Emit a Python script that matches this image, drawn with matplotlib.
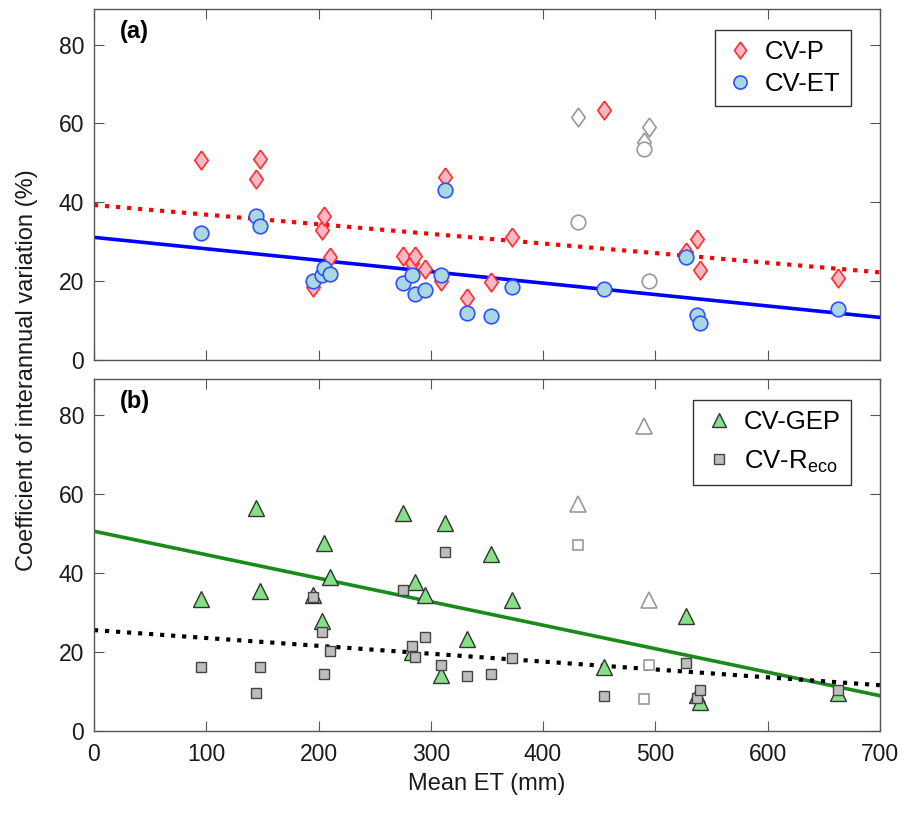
import matplotlib.pyplot as plt
import numpy as np

plt.rcParams['font.family'] = ['Liberation Sans', 'DejaVu Sans']

# sites used in the regressions (filled markers)
mean_et = [95, 144, 148, 195, 203, 205, 210, 275, 283, 286, 295,
           309, 313, 332, 354, 372, 454, 527, 537, 540, 663]
cv_p = [50.8, 45.9, 51.0, 18.5, 33.0, 36.5, 26.2, 26.4, 24.5, 26.4, 23.0,
        20.0, 46.5, 15.6, 19.8, 31.3, 63.5, 27.3, 30.6, 22.7, 20.7]
cv_et = [32.3, 36.5, 34.0, 20.0, 21.5, 23.4, 21.7, 19.5, 21.5, 16.7, 17.8,
         21.5, 43.0, 11.8, 11.2, 18.4, 17.9, 26.1, 11.3, 9.3, 12.9]
cv_gep = [33.4, 56.3, 35.5, 34.5, 27.8, 47.4, 39.0, 55.1, 19.9, 37.6, 34.3,
          14.2, 52.5, 23.3, 44.7, 33.2, 16.1, 29.0, 9.1, 7.4, 9.6]
cv_reco = [16.1, 9.7, 16.1, 33.8, 25.0, 14.4, 20.1, 35.6, 21.4, 18.6, 23.7,
           16.7, 45.3, 14.0, 14.5, 18.4, 8.9, 17.3, 8.3, 10.4, 10.4]

# excluded sites (open grey markers)
ex_et = [431, 490, 494]
ex_p = [61.5, 55.4, 59.0]
ex_cv_et = [35.1, 53.6, 20.0]
ex_gep = [57.5, 77.2, 33.0]
ex_reco = [47.0, 8.0, 16.8]

# regression lines: (intercept, slope)
fit_p = (39.3, -0.0244)
fit_et = (31.1, -0.0290)
fit_gep = (50.5, -0.0594)
fit_reco = (25.5, -0.0199)

xline = np.array([0, 700])

# wider diamond than matplotlib's 'd'
diamond = [(0, 1), (0.72, 0), (0, -1), (-0.72, 0), (0, 1)]

fig = plt.figure(figsize=(9.17, 8.13), dpi=100)
ax1 = fig.add_axes([0.1025, 0.5572, 0.857, 0.4317])
ax2 = fig.add_axes([0.1025, 0.1009, 0.857, 0.4330])

grey = '#999999'

# (a)
ax1.plot(xline, fit_p[0] + fit_p[1] * xline, ':', color='#ff0000', lw=3)
ax1.plot(xline, fit_et[0] + fit_et[1] * xline, '-', color='#0000ff', lw=2.6)
ax1.plot(ex_et, ex_p, marker=diamond, ms=13.5, mfc='white', mec=grey, mew=1.2, ls='none')
ax1.plot(ex_et, ex_cv_et, 'o', ms=10.5, mfc='white', mec=grey, mew=1.2, ls='none')
ax1.plot(mean_et, cv_p, marker=diamond, ms=13.5, mfc='#f9b8c4', mec='#ff3030', mew=1.2,
         ls='none', label='CV-P')
ax1.plot(mean_et, cv_et, 'o', ms=10.5, mfc='#a9d8e2', mec='#3050ff', mew=1.2,
         ls='none', label='CV-ET')

# (b)
ax2.plot(xline, fit_gep[0] + fit_gep[1] * xline, '-', color='#1a8a1a', lw=2.6)
ax2.plot(xline, fit_reco[0] + fit_reco[1] * xline, ':', color='black', lw=3)
ax2.plot(ex_et, ex_gep, '^', ms=11, mfc='white', mec=grey, mew=1.2, ls='none')
ax2.plot(ex_et, ex_reco, 's', ms=7.5, mfc='white', mec=grey, mew=1.2, ls='none')
ax2.plot(mean_et, cv_gep, '^', ms=11, mfc='#86e086', mec='#333333', mew=1.0,
         ls='none', label='CV-GEP')
ax2.plot(mean_et, cv_reco, 's', ms=7.5, mfc='#bdbdbd', mec='#444444', mew=1.0,
         ls='none', label='CV-R$_{\\mathregular{eco}}$')

for ax, tag, spacing in [(ax1, '(a)', 0.3), (ax2, '(b)', 0.55)]:
    ax.set_xlim(0, 700)
    ax.set_ylim(0, 89)
    ax.set_xticks(np.arange(0, 701, 100))
    ax.set_yticks(np.arange(0, 81, 20))
    ax.tick_params(axis='y', pad=7)
    ax.tick_params(axis='x', pad=9)
    ax.tick_params(direction='in', top=True, right=True, length=7,
                   color='#555555', labelsize=16.5, labelcolor='#1a1a1a')
    for s in ax.spines.values():
        s.set_color('#555555')
        s.set_linewidth(1.0)
    ax.text(0.033, 0.97, tag, transform=ax.transAxes, fontsize=17,
            fontweight='bold', va='top', ha='left')
    leg = ax.legend(loc='upper right', bbox_to_anchor=(0.963, 0.94),
                    borderaxespad=0, fontsize=18.5, numpoints=1, fancybox=False,
                    framealpha=1, edgecolor='#333333', handletextpad=0.35,
                    handlelength=1.2, borderpad=0.4, labelspacing=spacing,
                    markerscale=0.9)
    leg.get_frame().set_linewidth(1.0)

ax1.set_xticklabels([])
ax2.set_xlabel('Mean ET (mm)', fontsize=17, color='#1a1a1a', labelpad=5)
fig.text(0.029, 0.545, 'Coefficient of interannual variation (%)', rotation=90,
         fontsize=17, color='#1a1a1a', ha='center', va='center')

fig.savefig('out.png', dpi=100)
